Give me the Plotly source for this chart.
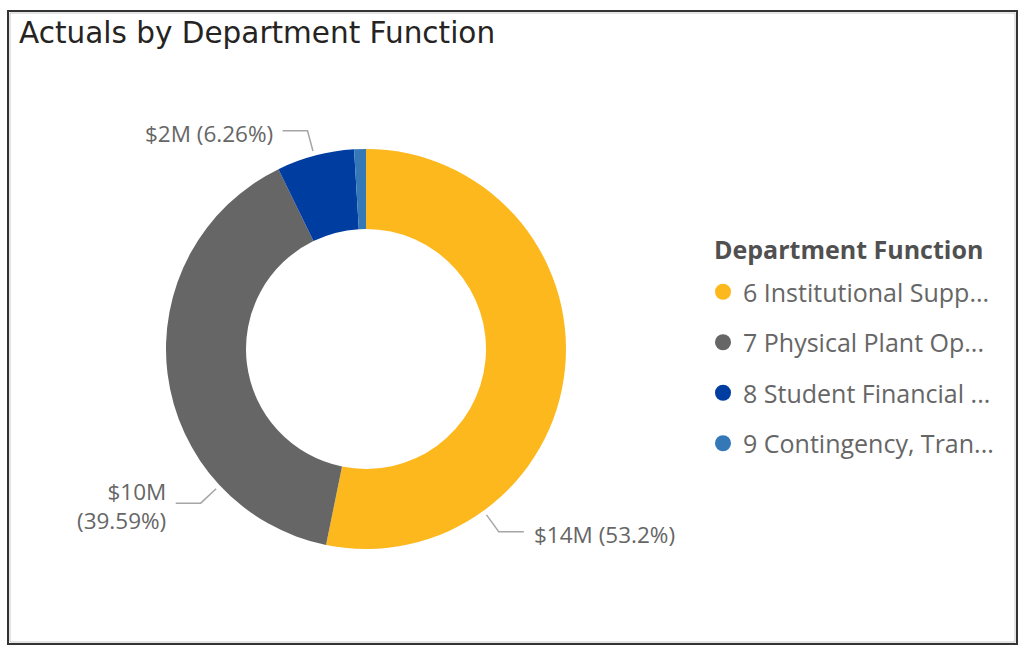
import math
import plotly.graph_objects as go

# ---- data ----
categories = [
    "6 Institutional Supp...",
    "7 Physical Plant Op...",
    "8 Student Financial ...",
    "9 Contingency, Tran...",
]
values_musd = [13.99, 10.41, 1.646, 0.25]   # $ millions
colors = ["#FDB81E", "#666666", "#003DA0", "#3478B8"]
chart_title = "Actuals by Department Function"
legend_title = "Department Function"

# ---- style / layout constants ----
W, H = 1024, 648
CX, CY, R = 366, 349, 200    # donut centre and outer radius (px)
HOLE = 0.6
label_angles = [144, 227, 345, None]  # leader line directions (deg, clockwise from top)
label_wrap = [False, True, False, False]
TXT = "#666666"
FONT = "Segoe UI, Open Sans, sans-serif"


def px(x, y):
    """pixel -> paper coords"""
    return x / W, 1 - y / H


total = sum(values_musd)
pcts = [v / total * 100 for v in values_musd]

fig = go.Figure()

dx0, dy0 = px(CX - R, CY + R)
dx1, dy1 = px(CX + R, CY - R)
fig.add_trace(go.Pie(
    labels=categories,
    values=values_musd,
    hole=HOLE,
    sort=False,
    direction="clockwise",
    rotation=0,
    marker=dict(colors=colors, line=dict(width=0)),
    textinfo="none",
    hoverinfo="label+value+percent",
    showlegend=False,
    domain=dict(x=[dx0, dx1], y=[dy0, dy1]),
))

# legend entries (circle symbols)
for name, col in zip(categories, colors):
    fig.add_trace(go.Scatter(
        x=[None], y=[None], mode="markers", name=name, legendgroup=name,
        marker=dict(symbol="circle", size=18, color=col),
    ))

shapes = []
annotations = []
for v, p, ang, wrap in zip(values_musd, pcts, label_angles, label_wrap):
    if ang is None:
        continue
    a = math.radians(ang)
    sx, sy = CX + (R + 5) * math.sin(a), CY - (R + 5) * math.cos(a)
    ex, ey = CX + (R + 26) * math.sin(a), CY - (R + 26) * math.cos(a)
    right = math.sin(a) > 0
    hx = ex + 25 if right else ex - 25
    p1, p2, p3 = px(sx, sy), px(ex, ey), px(hx, ey)
    shapes.append(dict(
        type="path", xref="paper", yref="paper",
        path=f"M {p1[0]} {p1[1]} L {p2[0]} {p2[1]} L {p3[0]} {p3[1]}",
        line=dict(color="#A6A6A6", width=1.5),
    ))
    ptxt = f"{p:.2f}".rstrip("0").rstrip(".")
    sep = "<br>" if wrap else " "
    text = f"${round(v)}M{sep}({ptxt}%)"
    tx = hx + 8 if right else hx - 8
    tpos = px(tx, ey + 3)
    annotations.append(dict(
        x=tpos[0], y=tpos[1], xref="paper", yref="paper", showarrow=False,
        text=text, xanchor="left" if right else "right", yanchor="middle",
        align="left" if right else "right",
        font=dict(family=FONT, size=22.5, color=TXT),
    ))

# title
tp = px(17, 33)
annotations.append(dict(
    x=tp[0], y=tp[1], xref="paper", yref="paper", showarrow=False,
    text=chart_title, xanchor="left", yanchor="middle",
    font=dict(family="DejaVu Sans, sans-serif", size=29.5, color="#252423"),
))

# legend title
lt = px(712, 249)
annotations.append(dict(
    x=lt[0], y=lt[1], xref="paper", yref="paper", showarrow=False,
    text=f"<b>{legend_title}</b>", xanchor="left", yanchor="middle",
    font=dict(family=FONT, size=25, color="#505050"),
))

# frame (dark outline with a faint inner line)
b0 = px(8, 644)
b1 = px(1017, 11)
shapes.append(dict(type="rect", xref="paper", yref="paper",
                   x0=b0[0], y0=b0[1], x1=b1[0], y1=b1[1],
                   line=dict(color="#333333", width=2), layer="above"))
c0 = px(10, 642)
c1 = px(1015, 13)
shapes.append(dict(type="rect", xref="paper", yref="paper",
                   x0=c0[0], y0=c0[1], x1=c1[0], y1=c1[1],
                   line=dict(color="#C8C8C8", width=1), layer="above"))

lg = px(703, 269)
fig.update_layout(
    width=W, height=H,
    margin=dict(l=0, r=0, t=0, b=0),
    paper_bgcolor="white", plot_bgcolor="white",
    xaxis=dict(visible=False), yaxis=dict(visible=False),
    shapes=shapes, annotations=annotations,
    showlegend=True,
    legend=dict(
        x=lg[0], y=lg[1], xanchor="left", yanchor="top",
        font=dict(family=FONT, size=25, color=TXT),
        tracegroupgap=15, itemsizing="trace",
        bgcolor="rgba(0,0,0,0)",
    ),
)

fig.write_html(
    "out.html",
    config={"displayModeBar": False},
    post_script="document.body.style.margin='0';"
                "document.documentElement.style.overflow='hidden';",
)
